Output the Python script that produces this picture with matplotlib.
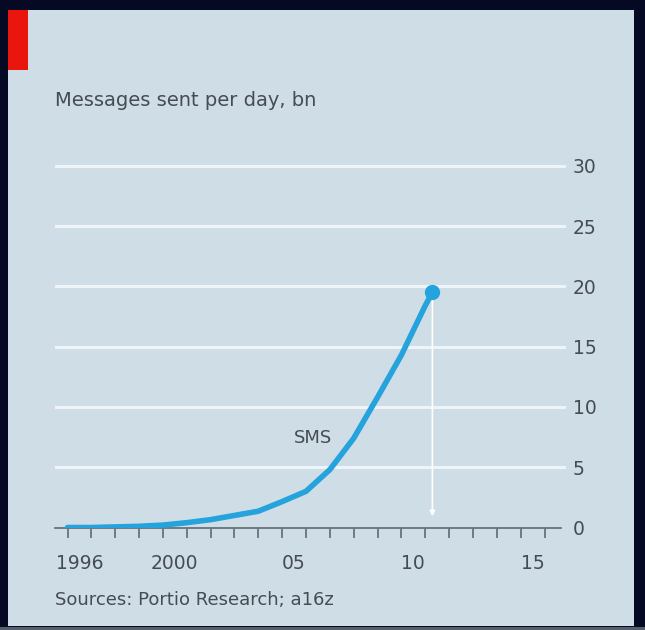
import matplotlib
matplotlib.use("Agg")
import matplotlib.pyplot as plt
from matplotlib.patches import Rectangle

# SMS messages sent per day, billions
years = [1996, 1997, 1998, 1999, 2000, 2001, 2002, 2003, 2004,
         2005, 2006, 2007, 2008, 2009, 2010, 2011, 2011.3]
sms = [0.0, 0.0, 0.05, 0.1, 0.2, 0.4, 0.65, 1.0, 1.35,
       2.15, 3.0, 4.8, 7.4, 10.8, 14.3, 18.4, 19.5]

y_ticks = [0, 5, 10, 15, 20, 25, 30]
x_label_pos = [1996.5, 2000.5, 2005.5, 2010.5, 2015.5]
x_labels = ["1996", "2000", "05", "10", "15"]
year_ticks = list(range(1996, 2017))

BG = "#cfdde7"
TEXT = "#454c53"
BLUE = "#24a3dc"

W, H = 645, 630
fig = plt.figure(figsize=(W / 100, H / 100), dpi=100)
fig.patch.set_facecolor("#060923")

# the chart panel, a bit of grey under it, the red tag
fig.add_artist(Rectangle((0, 0), 1, 1 - 627 / H, transform=fig.transFigure,
                         facecolor="#56606c", edgecolor="none", zorder=0))
fig.add_artist(Rectangle((8 / W, 1 - 626 / H), (634 - 8) / W, (626 - 10) / H,
                         transform=fig.transFigure, facecolor=BG,
                         edgecolor="none", zorder=0))
fig.add_artist(Rectangle((8 / W, 1 - 70 / H), 20 / W, 60 / H,
                         transform=fig.transFigure, facecolor="#e8160c",
                         edgecolor="none", zorder=1))

# axes placed so that 0 sits at y=527 px and 1996 at x=67 px
px_year = 23.85
px_unit = 12.06
left, right = 55, 566
y0 = 527.5
ytop = 31
ax = fig.add_axes([left / W, 1 - y0 / H, (right - left) / W, ytop * px_unit / H])
ax.set_facecolor("none")
x_min = 1996 - (67.5 - left) / px_year
ax.set_xlim(x_min, x_min + (right - left) / px_year)
ax.set_ylim(0, ytop)

for v in y_ticks[1:]:
    ax.axhline(v, color="#eef4f8", lw=2.2, zorder=1)

ax.plot(years, sms, color=BLUE, lw=4, solid_capstyle="round",
        solid_joinstyle="round", zorder=3)
ax.plot(years[-1], sms[-1], "o", color=BLUE, ms=10, zorder=4)

ax.annotate("", xy=(years[-1], 0.7), xytext=(years[-1], sms[-1]),
            arrowprops=dict(arrowstyle="-|>,head_length=0.3,head_width=0.15",
                            color="white", lw=1.2), zorder=2)

ax.text(2006.3, 7.4, "SMS", color=TEXT, fontsize=13, ha="center", va="center")

for s in ["top", "left", "right"]:
    ax.spines[s].set_visible(False)
ax.spines["bottom"].set_color("#6b7279")
ax.spines["bottom"].set_linewidth(1.3)
ax.spines["bottom"].set_bounds(x_min, 2016.7)

ax.set_xticks(year_ticks)
ax.set_xticks(x_label_pos, minor=True)
ax.set_xticklabels([])
ax.set_xticklabels(x_labels, minor=True)
ax.tick_params(axis="x", which="major", direction="out", length=7, width=1.3,
               color="#6b7279")
ax.tick_params(axis="x", which="minor", length=0, pad=19, labelsize=13.5,
               labelcolor=TEXT)

ax.yaxis.tick_right()
ax.set_yticks(y_ticks)
ax.set_yticklabels([str(v) for v in y_ticks])
ax.tick_params(axis="y", length=0, pad=5, labelsize=13.5, labelcolor=TEXT)
for lab in ax.get_yticklabels():
    lab.set_horizontalalignment("left")

fig.text(55 / W, 1 - 100 / H, "Messages sent per day, bn", color=TEXT,
         fontsize=14, va="center", ha="left")
fig.text(55 / W, 1 - 600 / H, "Sources: Portio Research; a16z", color=TEXT,
         fontsize=13, va="center", ha="left")

fig.savefig("out.png", dpi=100, facecolor=fig.get_facecolor())
